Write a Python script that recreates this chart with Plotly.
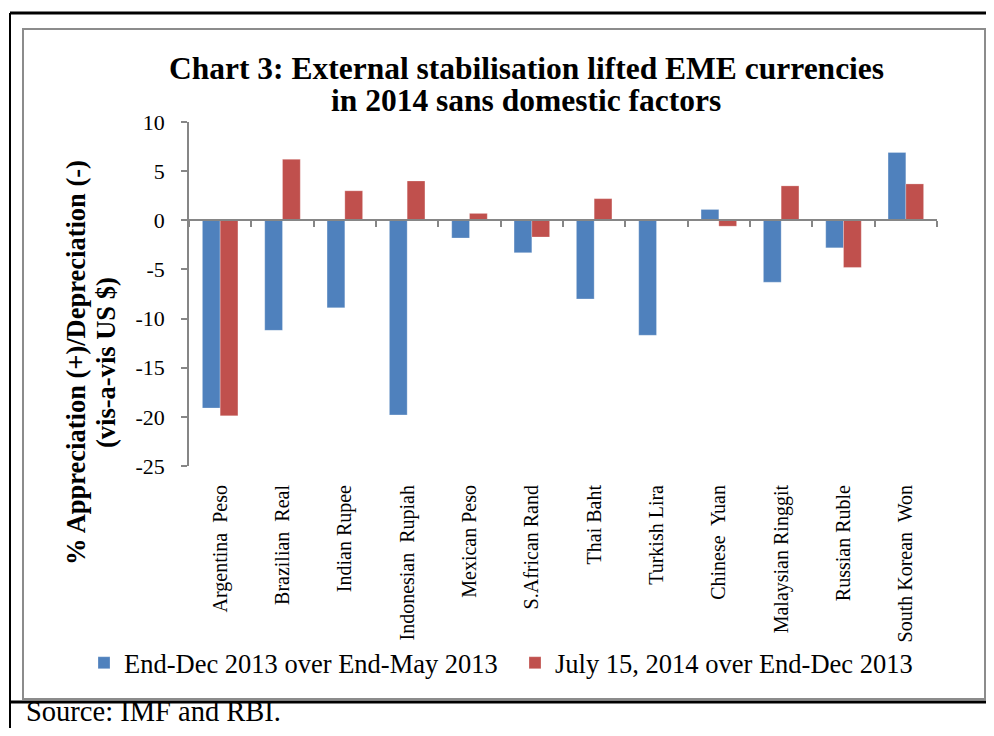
import plotly.graph_objects as go

categories = ["Argentina  Peso", "Brazilian  Real", "Indian Rupee", "Indonesian  Rupiah",
              "Mexican Peso", "S.African Rand", "Thai Baht", "Turkish Lira",
              "Chinese  Yuan", "Malaysian Ringgit", "Russian Ruble", "South Korean  Won"]
series1_name = "End-Dec 2013 over End-May 2013"
series1 = [-19.1, -11.2, -8.9, -19.8, -1.8, -3.3, -8.0, -11.7, 1.1, -6.3, -2.8, 6.9]
series2_name = "July 15, 2014 over End-Dec 2013"
series2 = [-19.9, 6.2, 3.0, 4.0, 0.7, -1.7, 2.2, 0.05, -0.6, 3.5, -4.8, 3.7]
y_ticks = [10, 5, 0, -5, -10, -15, -20, -25]
y_ticktext = ["10", "5", "0", "-5", "-10", "-15", "-20", "-25"]

FONT = "Liberation Serif"
OFF = 8  # page body margin offset
W, H = 986, 720
# target screen positions of plot area: x 189..937, y 122..466
L, T = 189 - OFF, 122 - OFF
PW, PH = 748, 344
R, B = W - L - PW, H - T - PH


def px(x):
    return (x - OFF - L) / PW


def py(y):
    return (T + PH - (y - OFF)) / PH


fig = go.Figure()
fig.add_trace(go.Bar(x=categories, y=series1, name=series1_name,
                     marker=dict(color="#4F81BD", line=dict(color="rgba(255,255,255,0.5)", width=0.5))))
fig.add_trace(go.Bar(x=categories, y=series2, name=series2_name,
                     marker=dict(color="#C0504D", line=dict(color="rgba(255,255,255,0.5)", width=0.5))))
# helper trace so the zero-line axis is drawn
fig.add_trace(go.Scatter(x=categories, y=[0] * len(categories), xaxis="x2", mode="markers",
                         marker=dict(opacity=0, size=1), showlegend=False, hoverinfo="skip"))

xrange = [-0.5, len(categories) - 0.5]
fig.update_layout(
    width=W, height=H,
    margin=dict(l=L, r=R, t=T, b=B),
    paper_bgcolor="white", plot_bgcolor="white",
    font=dict(family=FONT, color="black"),
    barmode="group", bargap=0.43, bargroupgap=0,
    showlegend=True,
    legend=dict(orientation="h", x=px(84), xanchor="left", y=py(663), yanchor="middle",
                font=dict(family=FONT, size=26.5, color="black"), itemwidth=30,
                entrywidth=386, entrywidthmode="pixels",
                bgcolor="rgba(0,0,0,0)", tracegroupgap=0),
    xaxis=dict(categoryorder="array", categoryarray=categories, range=xrange, showline=False,
               ticks="", tickangle=-90, tickfont=dict(family=FONT, size=20, color="black"),
               ticklabelstandoff=14, showgrid=False, zeroline=False),
    xaxis2=dict(overlaying="x", anchor="free", position=py(220), side="bottom",
                categoryorder="array", categoryarray=categories, range=xrange,
                showticklabels=False, ticks="outside", tickson="boundaries", ticklen=6,
                tickcolor="#868686", tickwidth=1.5, showline=True, linecolor="#868686",
                linewidth=2, showgrid=False, zeroline=False),
    yaxis=dict(range=[-25, 10], tickvals=y_ticks, ticktext=y_ticktext, ticks="outside", ticklen=6,
               tickcolor="#868686", tickwidth=1.5, showline=True, linecolor="#868686",
               linewidth=1.5, showgrid=False, zeroline=False,
               tickfont=dict(family=FONT, size=22, color="black"), ticklabelstandoff=12),
)

annotations = [
    dict(text="<b>Chart 3: External stabilisation lifted EME currencies</b>", x=px(526), y=py(69),
         font=dict(size=31.5)),
    dict(text="<b>in 2014 sans domestic factors</b>", x=px(526), y=py(101), font=dict(size=31.5)),
    dict(text="<b>% Appreciation (+)/Depreciation (-)</b>", x=px(76), y=py(363),
         font=dict(size=26.5), textangle=-90),
    dict(text="<b>(vis-a-vis US $)</b>", x=px(106), y=py(363), font=dict(size=26.5), textangle=-90),
    dict(text="Source: IMF and RBI.", x=px(25), y=py(728), xanchor="left", yanchor="bottom",
         font=dict(size=28.5)),
]
for a in annotations:
    a.setdefault("xanchor", "center")
    a.setdefault("yanchor", "middle")
    fig.add_annotation(xref="paper", yref="paper", showarrow=False, borderpad=0,
                       font=dict(family=FONT, color="black", size=a["font"]["size"]),
                       **{k: v for k, v in a.items() if k != "font"})

shapes = [
    dict(type="rect", x0=px(23), x1=px(985), y0=py(29), y1=py(699), line=dict(color="#8C8C8C", width=2)),
    dict(type="line", x0=px(10), x1=px(993), y0=py(13), y1=py(13), line=dict(color="black", width=3)),
    dict(type="line", x0=px(10), x1=px(993), y0=py(702), y1=py(702), line=dict(color="black", width=3)),
    dict(type="line", x0=px(10), x1=px(10), y0=py(13), y1=py(736), line=dict(color="black", width=2)),
    dict(type="line", x0=px(992.5), x1=px(992.5), y0=py(13), y1=py(702), line=dict(color="black", width=2)),
]
for s in shapes:
    fig.add_shape(xref="paper", yref="paper", layer="below", **s)

fig.write_html("out.html")
